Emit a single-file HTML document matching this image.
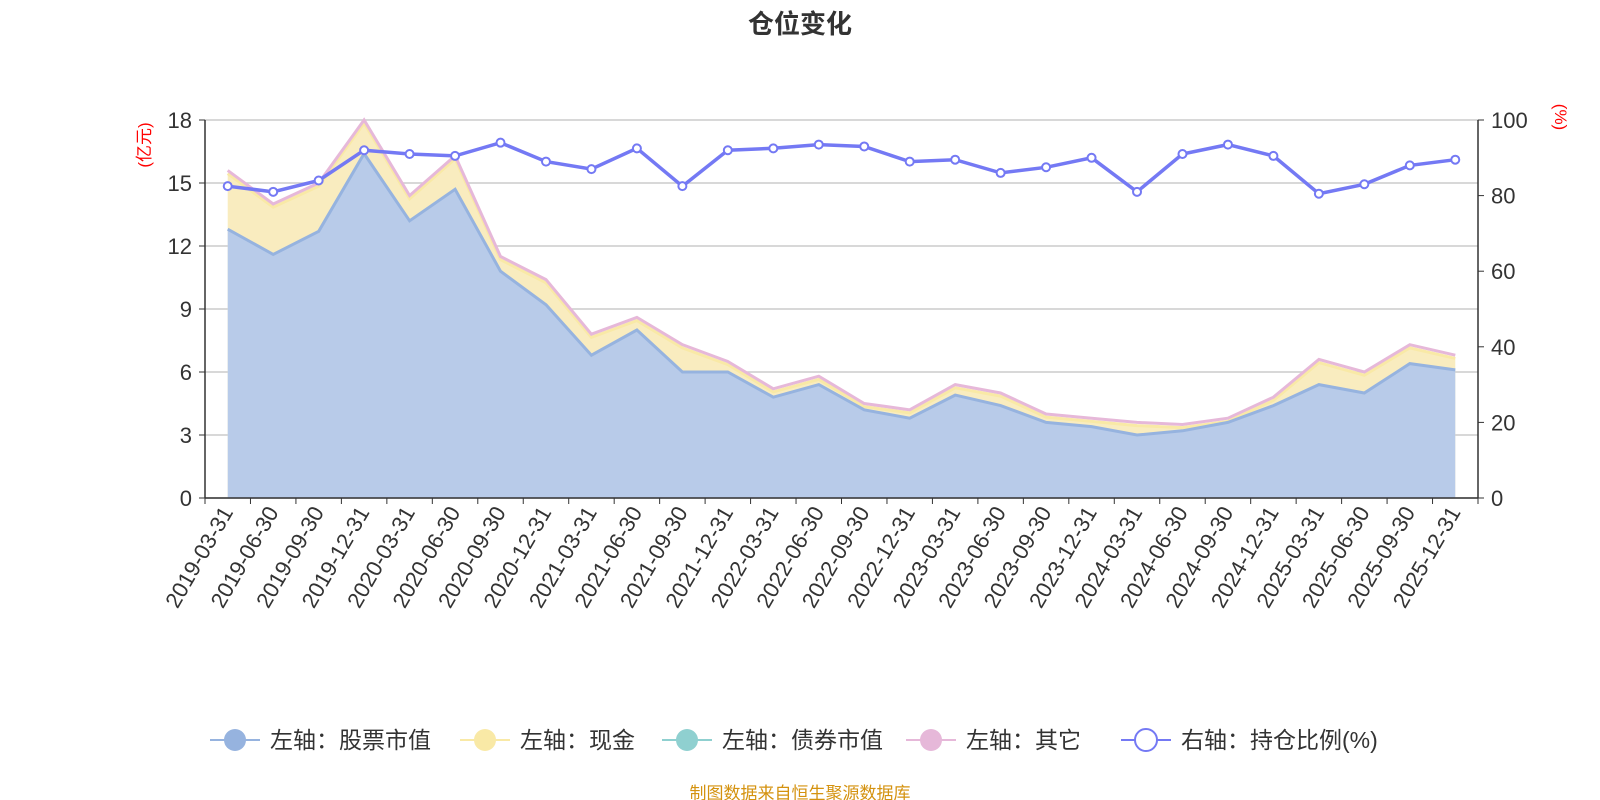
<!DOCTYPE html><html><head><meta charset="utf-8"><style>body{margin:0;background:#fff}svg{display:block}text{font-family:"Liberation Sans","Noto Sans CJK SC",sans-serif}</style></head><body>
<svg id="s" width="1600" height="800" xmlns="http://www.w3.org/2000/svg"></svg>
<script>
const S=document.getElementById('s');let h='';
const L=205,R=1478,T=120,B=498,n=28,bw=(R-L)/n;
const X=i=>L+bw*(i+0.5),Y=v=>B-v/18*(B-T),P=p=>B-p/100*(B-T);
const st=[12.8,11.6,12.7,16.4,13.2,14.7,10.8,9.2,6.8,8.0,6.0,6.0,4.8,5.4,4.2,3.8,4.9,4.4,3.6,3.4,3.0,3.2,3.6,4.4,5.4,5.0,6.4,6.1];
const tot=[15.6,14.0,15.0,18.0,14.4,16.3,11.5,10.4,7.8,8.6,7.3,6.5,5.2,5.8,4.5,4.2,5.4,5.0,4.0,3.8,3.6,3.5,3.8,4.8,6.6,6.0,7.3,6.8];
const pc=[82.5,81,84,92,91,90.5,94,89,87,92.5,82.5,92,92.5,93.5,93,89,89.5,86,87.5,90,81,91,93.5,90.5,80.5,83,88,89.5];
const lb=[];for(let y=2019;y<=2025;y++)for(const q of['03-31','06-30','09-30','12-31'])lb.push(y+'-'+q);
h+=`<text x="800" y="33" text-anchor="middle" font-size="26" font-weight="bold" fill="#333">仓位变化</text>`;
for(let k=0;k<=6;k++){const y=B-k*(B-T)/6;h+=`<line x1="${L}" x2="${R}" y1="${y}" y2="${y}" stroke="#ccc" stroke-width="1.5"/><line x1="${L-6}" x2="${L}" y1="${y}" y2="${y}" stroke="#333"/><text x="${L-13}" y="${y+8}" text-anchor="end" font-size="22" fill="#333">${k*3}</text>`}
for(let k=0;k<=5;k++){const y=B-k*(B-T)/5;h+=`<line x1="${R}" x2="${R+6}" y1="${y}" y2="${y}" stroke="#333"/><text x="${R+13}" y="${y+8}" font-size="22" fill="#333">${k*20}</text>`}
const pts=(a,f)=>a.map((v,i)=>X(i).toFixed(1)+','+f(v).toFixed(1)).join(' ');
const cash=tot.map(v=>v-0.15);
h+=`<polygon points="${pts(cash,Y)} ${X(27)},${B} ${X(0)},${B}" fill="#f9ecbf"/>`;
h+=`<polygon points="${pts(st,Y)} ${X(27)},${B} ${X(0)},${B}" fill="#b8cbe9"/>`;
h+=`<polyline points="${pts(cash,Y)}" fill="none" stroke="#f9e9a6" stroke-width="3"/>`;
h+=`<polyline points="${pts(tot,Y)}" fill="none" stroke="#e6b8d9" stroke-width="3"/>`;
h+=`<polyline points="${pts(st,Y)}" fill="none" stroke="#96b3df" stroke-width="3"/>`;
h+=`<line x1="${L}" x2="${L}" y1="${T}" y2="${B}" stroke="#333" stroke-width="1.5"/><line x1="${R}" x2="${R}" y1="${T}" y2="${B}" stroke="#333" stroke-width="1.5"/><line x1="${L}" x2="${R}" y1="${B}" y2="${B}" stroke="#333" stroke-width="1.5"/>`;
for(let i=0;i<=n;i++){const x=L+bw*i;h+=`<line x1="${x}" x2="${x}" y1="${B}" y2="${B+6}" stroke="#333"/>`}
lb.forEach((t,i)=>{h+=`<text transform="translate(${X(i)+6},${B+14}) rotate(-60)" text-anchor="end" font-size="22" fill="#333">${t}</text>`});
h+=`<polyline points="${pts(pc,P)}" fill="none" stroke="#7479f4" stroke-width="3.5"/>`;
pc.forEach((v,i)=>{h+=`<circle cx="${X(i)}" cy="${P(v)}" r="4" fill="#fff" stroke="#7479f4" stroke-width="2"/>`});
h+=`<text transform="translate(150,145) rotate(-90)" text-anchor="middle" font-size="17" fill="red">(亿元)</text>`;
h+=`<text transform="translate(1555,117) rotate(90)" text-anchor="middle" font-size="17" fill="red">(%)</text>`;
const lg=[[210,'左轴：股票市值','#96b3df','#96b3df'],[460,'左轴：现金','#f9e9a6','#f9e9a6'],[662,'左轴：债券市值','#8fd0d0','#8fd0d0'],[906,'左轴：其它','#e6b8d9','#e6b8d9'],[1121,'右轴：持仓比例(%)','#7479f4','#fff']];
lg.forEach(([x,t,c,f])=>{h+=`<line x1="${x}" x2="${x+50}" y1="740" y2="740" stroke="${c}" stroke-width="2"/><circle cx="${x+25}" cy="740" r="11" fill="${f}" stroke="${c}" stroke-width="${f=='#fff'?2:0}"/><text x="${x+60}" y="748" font-size="23" fill="#333">${t}</text>`});
h+=`<text x="800" y="799" text-anchor="middle" font-size="17" fill="#d4920f">制图数据来自恒生聚源数据库</text>`;
S.innerHTML=h;
</script></body></html>
